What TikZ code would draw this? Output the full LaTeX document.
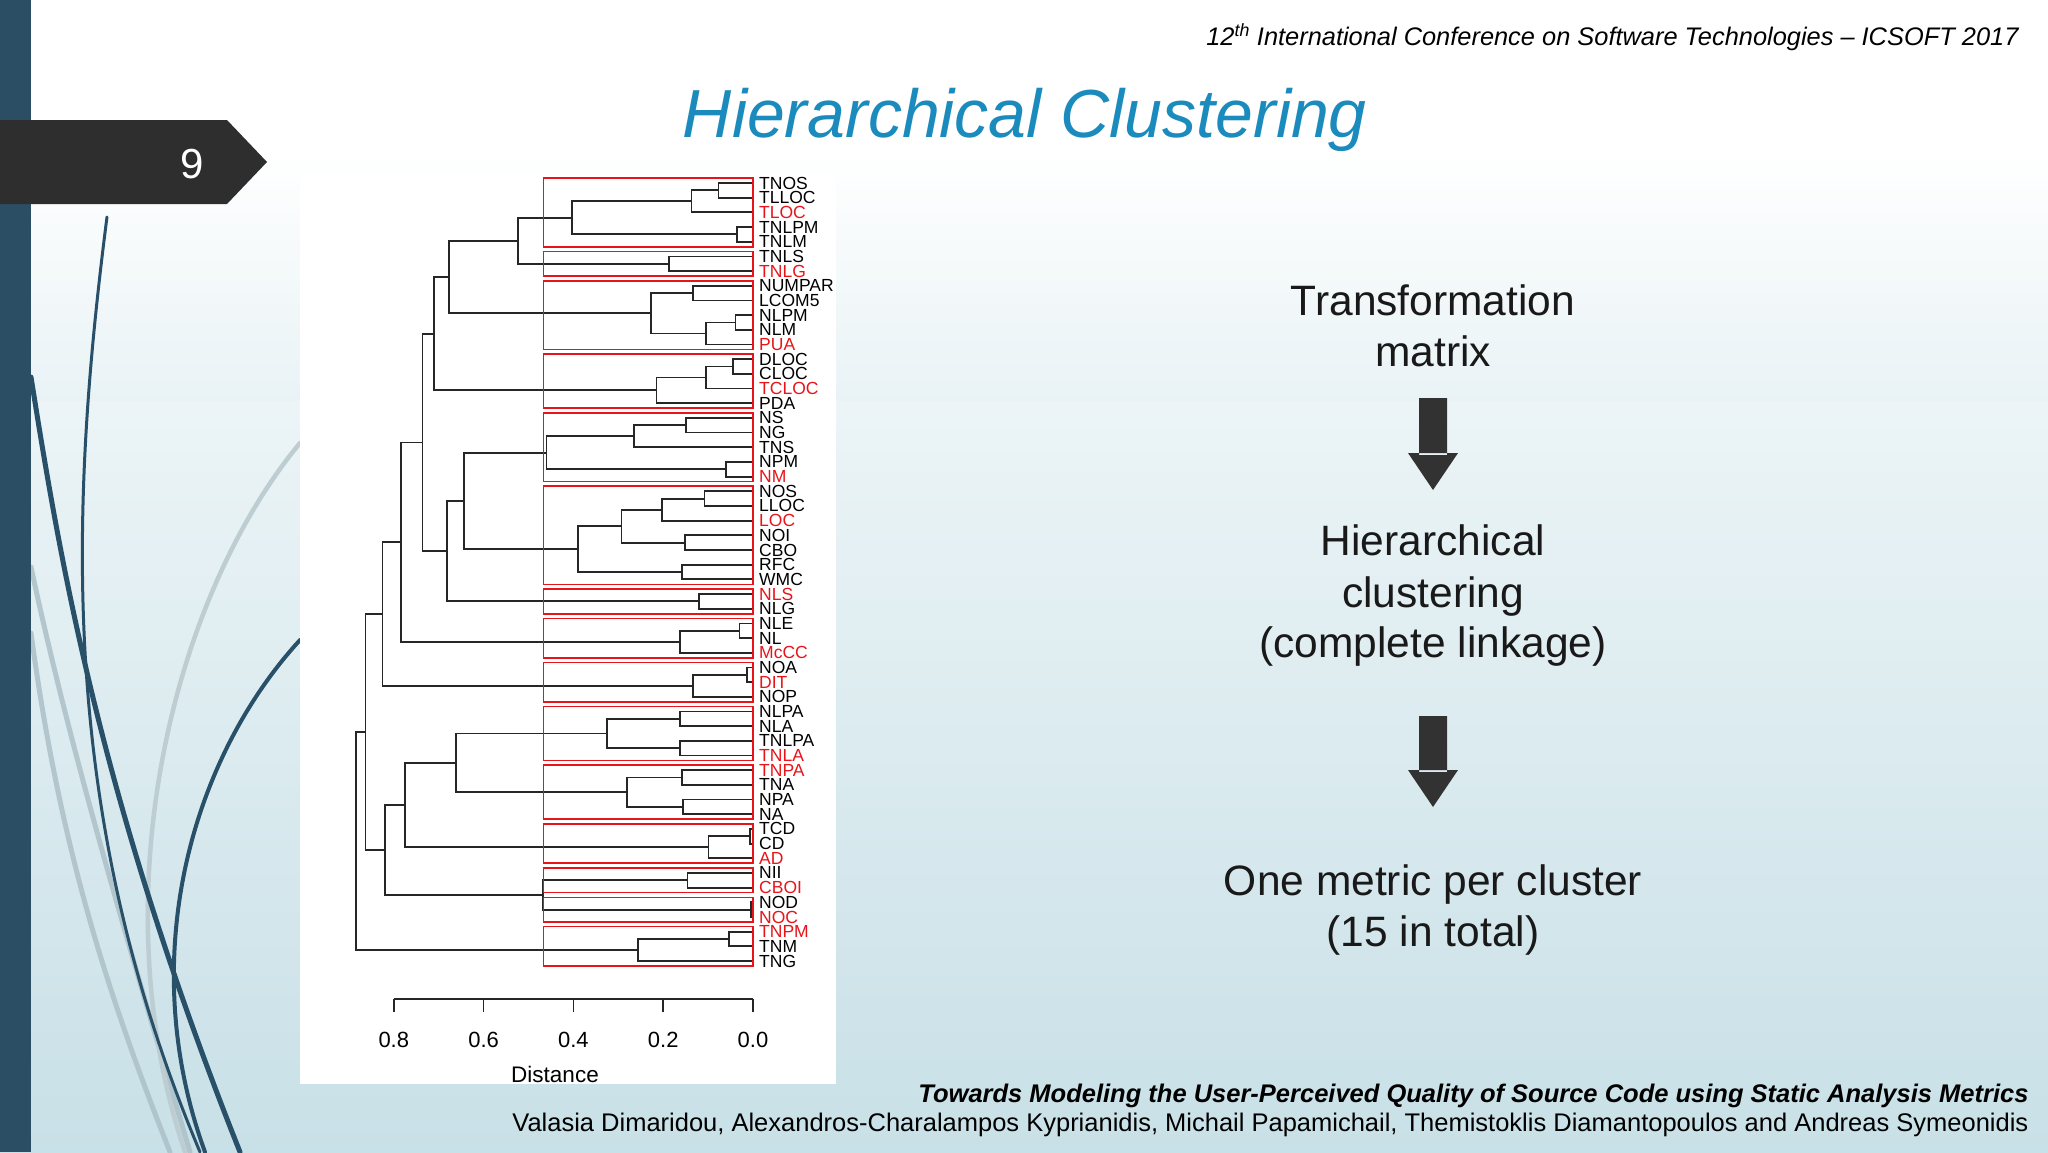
\documentclass[tikz,border=0pt]{standalone}
\usepackage{fontspec}
\setmainfont{Liberation Sans}
\usetikzlibrary{shapes.geometric}
\definecolor{dendred}{RGB}{232,20,26}
\definecolor{titleblue}{RGB}{27,139,189}
\definecolor{barblue}{RGB}{44,78,100}
\definecolor{curvedark}{RGB}{40,80,105}
\definecolor{curvegrey}{RGB}{172,192,199}
\definecolor{bgbottom}{RGB}{200,224,231}
\definecolor{arrowgrey}{RGB}{50,50,50}
\newcommand\XD[1]{753-449*#1}
\newcommand\YI[1]{183+14.68*#1}
\newcommand\mrg[5]{\draw[dend] ({\XD{#3}},{\YI{#2}}) -- ({\XD{#1}},{\YI{#2}}) -- ({\XD{#1}},{\YI{#4}}) -- ({\XD{#5}},{\YI{#4}});}
\newcommand\cbox[2]{\draw[redbox] ({\XD{0.467}},{\YI{#1}-5}) rectangle ({\XD{0}},{\YI{#2}+5});}
\begin{document}
\begin{tikzpicture}[x=1pt,y=-1pt,
  dend/.style={line width=1.8pt,draw=black!85},
  redbox/.style={line width=1.6pt,draw=dendred},
  leaf/.style={anchor=west,inner sep=0pt,font=\fontsize{17.5}{17.5}\selectfont},
  rleaf/.style={leaf,text=dendred},
  bigtxt/.style={align=center,font=\fontsize{42.5}{51}\selectfont,text=black!90},
  darr/.style={fill=arrowgrey,draw=none}]
\useasboundingbox (0,0) rectangle (2048,1152);
\shade[top color=white,bottom color=bgbottom] (0,0) rectangle (2048,1152);
\fill[white] (0,0) rectangle (2048,150);
\shade[top color=white,bottom color=white!60!bgbottom] (0,150) rectangle (2048,400);
% decorative curves
\begin{scope}[line cap=round]
\draw[curvegrey,line width=5pt,opacity=0.85] (31,567) .. controls (70,750) and (130,950) .. (190,1152);
\draw[curvegrey,line width=5pt,opacity=0.85] (31,633) .. controls (60,850) and (110,1000) .. (170,1152);
\draw[curvegrey!80!white,line width=4.5pt] (300,443) .. controls (170,600) and (100,900) .. (185,1152);
\draw[curvedark,line width=5pt] (31,377) .. controls (60,560) and (100,800) .. (240,1152);
\draw[curvedark,line width=3pt] (107,217) .. controls (68,520) and (60,820) .. (200,1152);
\draw[curvedark,line width=4pt] (300,640) .. controls (190,760) and (135,960) .. (205,1152);
\end{scope}
\fill[barblue] (0,0) rectangle (31,1152);
% page tab
\fill[black!82] (0,120) -- (227,120) -- (267,162) -- (227,204) -- (0,204) -- cycle;
\node[text=white,font=\fontsize{42}{42}\selectfont] (pnum) at (192,164) {9};
% header and title
\node[anchor=east,font=\itshape\fontsize{25.4}{25.4}\selectfont] (conf) at (2022,37) {12\textsuperscript{th} International Conference on Software Technologies -- ICSOFT 2017};
\node[text=titleblue,font=\itshape\fontsize{68}{68}\selectfont] (title) at (1025,120) {Hierarchical Clustering};
% dendrogram panel
\fill[white] (300,174) rectangle (836,1084);
\foreach \i/\t in {0/TNOS,1/TLLOC,3/TNLPM,4/TNLM,5/TNLS,7/NUMPAR,8/LCOM5,9/NLPM,10/NLM,12/DLOC,13/CLOC,15/PDA,16/NS,17/NG,18/TNS,19/NPM,21/NOS,22/LLOC,24/NOI,25/CBO,26/RFC,27/WMC,29/NLG,30/NLE,31/NL,33/NOA,35/NOP,36/NLPA,37/NLA,38/TNLPA,41/TNA,42/NPA,43/NA,44/TCD,45/CD,47/NII,49/NOD,52/TNM,53/TNG}
  \node[leaf] (L\i) at (759,{\YI{\i}}) {\t};
\foreach \i/\t in {2/TLOC,6/TNLG,11/PUA,14/TCLOC,20/NM,23/LOC,28/NLS,32/McCC,34/DIT,39/TNLA,40/TNPA,46/AD,48/CBOI,50/NOC,51/TNPM}
  \node[rleaf] (L\i) at (759,{\YI{\i}}) {\t};
% merges: height, y1, d1, y2, d2
\mrg{0.077}{0}{0}{1}{0}
\mrg{0.137}{0.5}{0.077}{2}{0}
\mrg{0.036}{3}{0}{4}{0}
\mrg{0.404}{1.25}{0.137}{3.5}{0.036}
\mrg{0.187}{5}{0}{6}{0}
\mrg{0.523}{2.375}{0.404}{5.5}{0.187}
\mrg{0.133}{7}{0}{8}{0}
\mrg{0.039}{9}{0}{10}{0}
\mrg{0.105}{9.5}{0.039}{11}{0}
\mrg{0.228}{7.5}{0.133}{10.25}{0.105}
\mrg{0.677}{3.9375}{0.523}{8.875}{0.228}
\mrg{0.045}{12}{0}{13}{0}
\mrg{0.105}{12.5}{0.045}{14}{0}
\mrg{0.215}{13.25}{0.105}{15}{0}
\mrg{0.711}{6.40625}{0.677}{14.125}{0.215}
\mrg{0.149}{16}{0}{17}{0}
\mrg{0.265}{16.5}{0.149}{18}{0}
\mrg{0.061}{19}{0}{20}{0}
\mrg{0.460}{17.25}{0.265}{19.5}{0.061}
\mrg{0.108}{21}{0}{22}{0}
\mrg{0.203}{21.5}{0.108}{23}{0}
\mrg{0.151}{24}{0}{25}{0}
\mrg{0.293}{22.25}{0.203}{24.5}{0.151}
\mrg{0.159}{26}{0}{27}{0}
\mrg{0.390}{23.375}{0.293}{26.5}{0.159}
\mrg{0.643}{18.375}{0.460}{24.9375}{0.390}
\mrg{0.120}{28}{0}{29}{0}
\mrg{0.681}{21.65625}{0.643}{28.5}{0.120}
\mrg{0.736}{10.265625}{0.711}{25.078}{0.681}
\mrg{0.030}{30}{0}{31}{0}
\mrg{0.162}{30.5}{0.030}{32}{0}
\mrg{0.784}{17.672}{0.736}{31.25}{0.162}
\mrg{0.014}{33}{0}{34}{0}
\mrg{0.134}{33.5}{0.014}{35}{0}
\mrg{0.825}{24.461}{0.784}{34.25}{0.134}
\mrg{0.162}{36}{0}{37}{0}
\mrg{0.162}{38}{0}{39}{0}
\mrg{0.325}{36.5}{0.162}{38.5}{0.162}
\mrg{0.159}{40}{0}{41}{0}
\mrg{0.156}{42}{0}{43}{0}
\mrg{0.281}{40.5}{0.159}{42.5}{0.156}
\mrg{0.661}{37.5}{0.325}{41.5}{0.281}
\mrg{0.006}{44}{0}{45}{0}
\mrg{0.099}{44.5}{0.006}{46}{0}
\mrg{0.775}{39.5}{0.661}{45.25}{0.099}
\mrg{0.146}{47}{0}{48}{0}
\mrg{0.005}{49}{0}{50}{0}
\mrg{0.468}{47.5}{0.146}{49.5}{0.005}
\mrg{0.820}{42.375}{0.775}{48.5}{0.468}
\mrg{0.863}{29.355}{0.825}{45.4375}{0.820}
\mrg{0.054}{51}{0}{52}{0}
\mrg{0.256}{51.5}{0.054}{53}{0}
\mrg{0.885}{37.396}{0.863}{52.25}{0.256}
% cluster boxes
\cbox{0}{4}\cbox{5}{6}\cbox{7}{11}\cbox{12}{15}\cbox{16}{20}\cbox{21}{27}\cbox{28}{29}\cbox{30}{32}\cbox{33}{35}\cbox{36}{39}\cbox{40}{43}\cbox{44}{46}\cbox{47}{48}\cbox{49}{50}\cbox{51}{53}
% axis
\draw[line width=1.6pt,black!85] ({\XD{0.8}},999) -- ({\XD{0}},999);
\foreach \d in {0.8,0.6,0.4,0.2,0.0} {
  \draw[line width=1.6pt,black!85] ({\XD{\d}},999) -- ({\XD{\d}},1012);
  \node[font=\fontsize{22}{22}\selectfont] (t\d) at ({\XD{\d}},1040) {\d};
}
\node[font=\fontsize{22.5}{22.5}\selectfont] (axl) at (555,1074) {Distance};
% right column
\node[bigtxt] (t1) at (1433,326) {Transformation\\matrix};
\fill[darr] (1419,398) rectangle (1447,455) (1408,453) -- (1458,453) -- (1433,490) -- cycle;
\node[bigtxt] (t2) at (1433,596) {Hierarchical\\clustering\\(complete linkage)};
\fill[darr] (1419,716) rectangle (1447,772) (1408,770) -- (1458,770) -- (1433,807) -- cycle;
\node[bigtxt] (t3) at (1433,910) {One metric per cluster\\(15 in total)};
% footer
\node[anchor=east,font=\bfseries\itshape\fontsize{25.5}{25.5}\selectfont] (f1) at (2032,1096) {Towards Modeling the User-Perceived Quality of Source Code using Static Analysis Metrics};
\node[anchor=east,font=\fontsize{25.5}{25.5}\selectfont] (f2) at (2032,1125) {Valasia Dimaridou, Alexandros-Charalampos Kyprianidis, Michail Papamichail, Themistoklis Diamantopoulos and Andreas Symeonidis};
\end{tikzpicture}
\end{document}
